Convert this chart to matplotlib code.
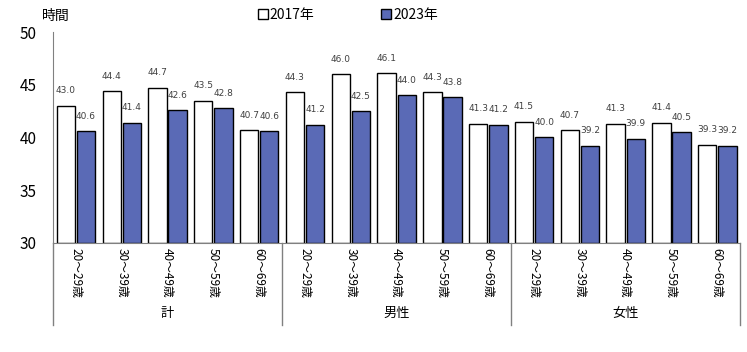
import matplotlib
matplotlib.use("Agg")
import matplotlib.pyplot as plt
import matplotlib.patches as mpatches
import numpy as np

plt.rcParams['font.family'] = ['Noto Sans CJK JP', 'DejaVu Sans']

# データ
age_labels = ["20～29歳", "30～39歳", "40～49歳", "50～59歳", "60～69歳"]
groups = ["計", "男性", "女性"]
values_2017 = [43.0, 44.4, 44.7, 43.5, 40.7,
               44.3, 46.0, 46.1, 44.3, 41.3,
               41.5, 40.7, 41.3, 41.4, 39.3]
values_2023 = [40.6, 41.4, 42.6, 42.8, 40.6,
               41.2, 42.5, 44.0, 43.8, 41.2,
               40.0, 39.2, 39.9, 40.5, 39.2]
series_names = ["2017年", "2023年"]

BLUE = "#5a6ab6"
GRAY = "#808080"

fig = plt.figure(figsize=(7.47, 3.52), dpi=100)
ax = fig.add_axes([0.071, 0.31, 0.92, 0.599])

n = len(values_2017)
x = np.arange(n)
w = 0.40
off = 0.22
ax.bar(x - off, np.array(values_2017) - 30, w, bottom=30,
       color="white", edgecolor="black", linewidth=1.0)
ax.bar(x + off, np.array(values_2023) - 30, w, bottom=30,
       color=BLUE, edgecolor="black", linewidth=1.0)

# 値ラベル
for xs, vals in [(x - off, values_2017), (x + off, values_2023)]:
    for xi, v in zip(xs, vals):
        ax.annotate(f"{v:.1f}", (xi, v), xytext=(0, 7.5), textcoords="offset points",
                    ha="center", va="bottom", fontsize=6.5, color="#404040",
                    family="DejaVu Sans")

ax.set_ylim(30, 50)
ax.set_xlim(-0.5, n - 0.5)
ax.set_yticks([30, 35, 40, 45, 50])
ax.tick_params(axis="y", length=0, pad=12, labelsize=11)
for s in ["top", "right"]:
    ax.spines[s].set_visible(False)
ax.spines["left"].set_color(GRAY)
ax.spines["bottom"].set_color(GRAY)

# x軸ラベル（縦書き風）
ax.set_xticks(x)
ax.set_xticklabels(age_labels * 3, rotation=270, fontsize=8.5)
ax.tick_params(axis="x", length=0, pad=4)

# 区切り線とグループ名
trans = ax.get_xaxis_transform()
for xb in [-0.5, 4.5, 9.5, 14.5]:
    ax.plot([xb, xb], [0, -0.39], transform=trans, color=GRAY,
            linewidth=1, clip_on=False)
for i, g in enumerate(groups):
    ax.text(i * 5 + 2, -0.335, g, transform=trans, ha="center", va="center",
            fontsize=9.5)

# 単位・凡例
fig.text(0.056, 0.955, "時間", fontsize=10, ha="left", va="center")
handles = [mpatches.Patch(facecolor="white", edgecolor="black", label=series_names[0]),
           mpatches.Patch(facecolor=BLUE, edgecolor="black", label=series_names[1])]
fig.legend(handles=handles, loc="center left", bbox_to_anchor=(0.336, 0.957),
           ncol=2, frameon=False, fontsize=10, handlelength=0.7, handleheight=0.7,
           handletextpad=0.15, columnspacing=4.8, borderpad=0)

fig.savefig("out.png", dpi=100)
